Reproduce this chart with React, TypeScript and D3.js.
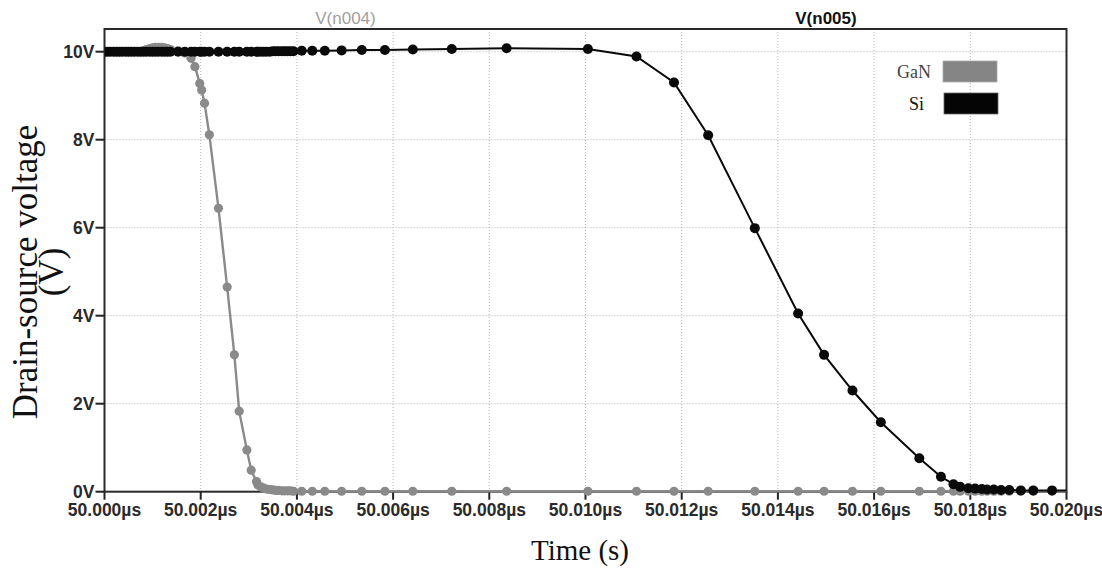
import React from "react";
import * as d3 from "d3";

// time points in ns after 50 µs (shared by both traces)
const timeNs = [
  0.0, 0.06, 0.12, 0.19, 0.25, 0.31, 0.37, 0.44, 0.5, 0.56, 0.62, 0.69, 0.75,
  0.81, 0.87, 0.94, 1.0, 1.06, 1.12, 1.19, 1.25, 1.31, 1.37,
  1.53, 1.67, 1.8, 1.88, 1.98, 2.02, 2.08, 2.18, 2.37, 2.55, 2.7, 2.8, 2.96, 3.05, 3.16,
  3.19, 3.25, 3.31, 3.37, 3.44, 3.5, 3.56, 3.62, 3.69, 3.75, 3.81, 3.87,
  3.93, 4.1, 4.32, 4.58, 4.93, 5.35, 5.83, 6.41, 7.22, 8.36, 10.05,
  11.06, 11.84, 12.55, 13.52, 14.42, 14.96, 15.55, 16.14, 16.94, 17.39, 17.65, 17.79,
  17.96, 18.1, 18.24, 18.35, 18.49, 18.64, 18.81, 19.05, 19.31, 19.7, 20.0,
];

const ganV = [
  10.0, 10.0, 10.0, 10.0, 10.0, 10.0, 10.0, 10.0, 10.0, 10.0, 10.0, 10.0, 10.0,
  10.02, 10.05, 10.07, 10.09, 10.1, 10.1, 10.1, 10.09, 10.07, 10.05,
  10.02, 9.97, 9.85, 9.66, 9.28, 9.13, 8.83, 8.11, 6.44, 4.65, 3.11, 1.83, 0.95, 0.49, 0.23,
  0.15, 0.11, 0.08, 0.06, 0.05, 0.04, 0.03, 0.03, 0.02, 0.02, 0.02, 0.02,
  0.01, 0.01, 0.01, 0.01, 0.01, 0.01, 0.01, 0.01, 0.01, 0.01, 0.01,
  0.01, 0.01, 0.01, 0.01, 0.01, 0.01, 0.01, 0.01, 0.01, 0.01, 0.01, 0.01,
  0.01, 0.01, 0.01, 0.01, 0.01, 0.01, 0.01, 0.01, 0.01, 0.01, 0.01,
];

const siV = [
  10.0, 10.0, 10.0, 10.0, 10.0, 10.0, 10.0, 10.0, 10.0, 10.0, 10.0, 10.0, 10.0,
  10.0, 10.0, 10.0, 10.0, 10.0, 10.0, 10.0, 10.0, 10.0, 10.0,
  10.0, 10.0, 10.0, 10.0, 10.0, 10.0, 10.0, 10.0, 10.0, 10.0, 10.0, 10.0, 10.0, 10.0, 10.0,
  10.0, 10.0, 10.0, 10.0, 10.0, 10.01, 10.01, 10.01, 10.01, 10.01, 10.01, 10.01,
  10.01, 10.02, 10.02, 10.02, 10.03, 10.04, 10.04, 10.05, 10.06, 10.08, 10.06,
  9.89, 9.3, 8.1, 5.99, 4.05, 3.11, 2.3, 1.58, 0.76, 0.34, 0.17, 0.11,
  0.08, 0.07, 0.06, 0.05, 0.05, 0.04, 0.04, 0.03, 0.03, 0.03, 0.03,
];

const xTicks = [50.0, 50.002, 50.004, 50.006, 50.008, 50.01, 50.012, 50.014, 50.016, 50.018, 50.02];
const yTicks = [0, 2, 4, 6, 8, 10];
const seriesNames = ["GaN", "Si"];
const traceTitles = ["V(n004)", "V(n005)"];

const W = 1102;
const H = 574;
const L = 104.5, R = 1066.5, T = 29, B = 491.7;

export default function App() {
  const x = d3.scaleLinear().domain([50.0, 50.02]).range([L, R]);
  const y = d3.scaleLinear().domain([0, 10]).range([B, 51.7]);
  const tUs = timeNs.map((t) => 50 + t / 1000);
  const gan = tUs.map((t, i) => [t, ganV[i]] as [number, number]);
  const si = tUs.map((t, i) => [t, siV[i]] as [number, number]);
  const line = d3.line<[number, number]>().x((d) => x(d[0])).y((d) => y(d[1]));
  const fmt = d3.format(".3f");
  const tickFont = "'Liberation Sans', Arial, sans-serif";
  const serif = "'Liberation Serif', 'Times New Roman', serif";
  const colors = ["#8a8a8a", "#0a0a0a"];

  return (
    <svg
      width={W}
      height={H}
      style={{ position: "absolute", left: 0, top: 0, background: "#fff" }}
    >
      <defs>
        <clipPath id="plot">
          <rect x={L} y={T} width={R - L} height={B - T + 6} />
        </clipPath>
      </defs>
      <rect x={0} y={0} width={W} height={H} fill="#fff" />
      {/* grid */}
      {xTicks.slice(1, -1).map((t) => (
        <line key={"gx" + t} x1={x(t)} x2={x(t)} y1={T} y2={B} stroke="#b5b5b5" strokeWidth={1} strokeDasharray="1,2" />
      ))}
      {yTicks.slice(1).map((v) => (
        <line key={"gy" + v} x1={L} x2={R} y1={y(v)} y2={y(v)} stroke="#b5b5b5" strokeWidth={1} strokeDasharray="1,2" />
      ))}
      {/* frame */}
      <rect x={L} y={T} width={R - L} height={B - T} fill="none" stroke="#2a2a2a" strokeWidth={2} />
      {/* ticks */}
      {xTicks.map((t) => (
        <g key={"xt" + t}>
          <line x1={x(t)} x2={x(t)} y1={B} y2={B + 8} stroke="#222" strokeWidth={2} />
          <text x={x(t)} y={516} textAnchor="middle" fontFamily={tickFont} fontSize={17.5} fontWeight="bold" fill="#2a2a2a">
            {fmt(t) + "µs"}
          </text>
        </g>
      ))}
      {yTicks.map((v) => (
        <g key={"yt" + v}>
          <line x1={L - 9} x2={L} y1={y(v)} y2={y(v)} stroke="#222" strokeWidth={2} />
          <text x={L - 10} y={y(v)} dy="0.36em" textAnchor="end" fontFamily={tickFont} fontSize={17.5} fontWeight="bold" fill="#2a2a2a">
            {v + "V"}
          </text>
        </g>
      ))}
      {/* trace titles */}
      <text x={345.5} y={24} textAnchor="middle" fontFamily={tickFont} fontSize={17} fill="#a0a0a0">
        {traceTitles[0]}
      </text>
      <text x={826} y={24} textAnchor="middle" fontFamily={tickFont} fontSize={17} fontWeight="bold" fill="#111">
        {traceTitles[1]}
      </text>
      {/* series */}
      <g clipPath="url(#plot)">
        {[gan, si].map((data, k) => (
          <g key={"s" + k}>
            <path d={line(data) || ""} fill="none" stroke={colors[k]} strokeWidth={k === 0 ? 2.4 : 2} />
            {data
              .filter((d) => d[0] < 50.0199)
              .map((d, i) => (
                <circle key={i} cx={x(d[0])} cy={y(d[1])} r={k === 0 ? 4.6 : 5} fill={colors[k]} />
              ))}
          </g>
        ))}
      </g>
      {/* legend */}
      <text x={931} y={78} textAnchor="end" fontFamily={serif} fontSize={18} fill="#444">
        {seriesNames[0]}
      </text>
      <rect x={943} y={61} width={54} height={21} fill="#858585" stroke="#aaa" strokeWidth={0.8} />
      <text x={924} y={110} textAnchor="end" fontFamily={serif} fontSize={18} fill="#111">
        {seriesNames[1]}
      </text>
      <rect x={944} y={93} width={54} height={21} fill="#050505" stroke="#666" strokeWidth={0.8} />
      {/* axis titles */}
      <text x={580} y={560} textAnchor="middle" fontFamily={serif} fontSize={29} fill="#111">
        Time (s)
      </text>
      <text transform="translate(37,272) rotate(-90)" textAnchor="middle" fontFamily={serif} fontSize={35} fill="#111">
        Drain-source voltage
      </text>
      <text transform="translate(63,272) rotate(-90)" textAnchor="middle" fontFamily={serif} fontSize={35} fill="#111">
        (V)
      </text>
    </svg>
  );
}
